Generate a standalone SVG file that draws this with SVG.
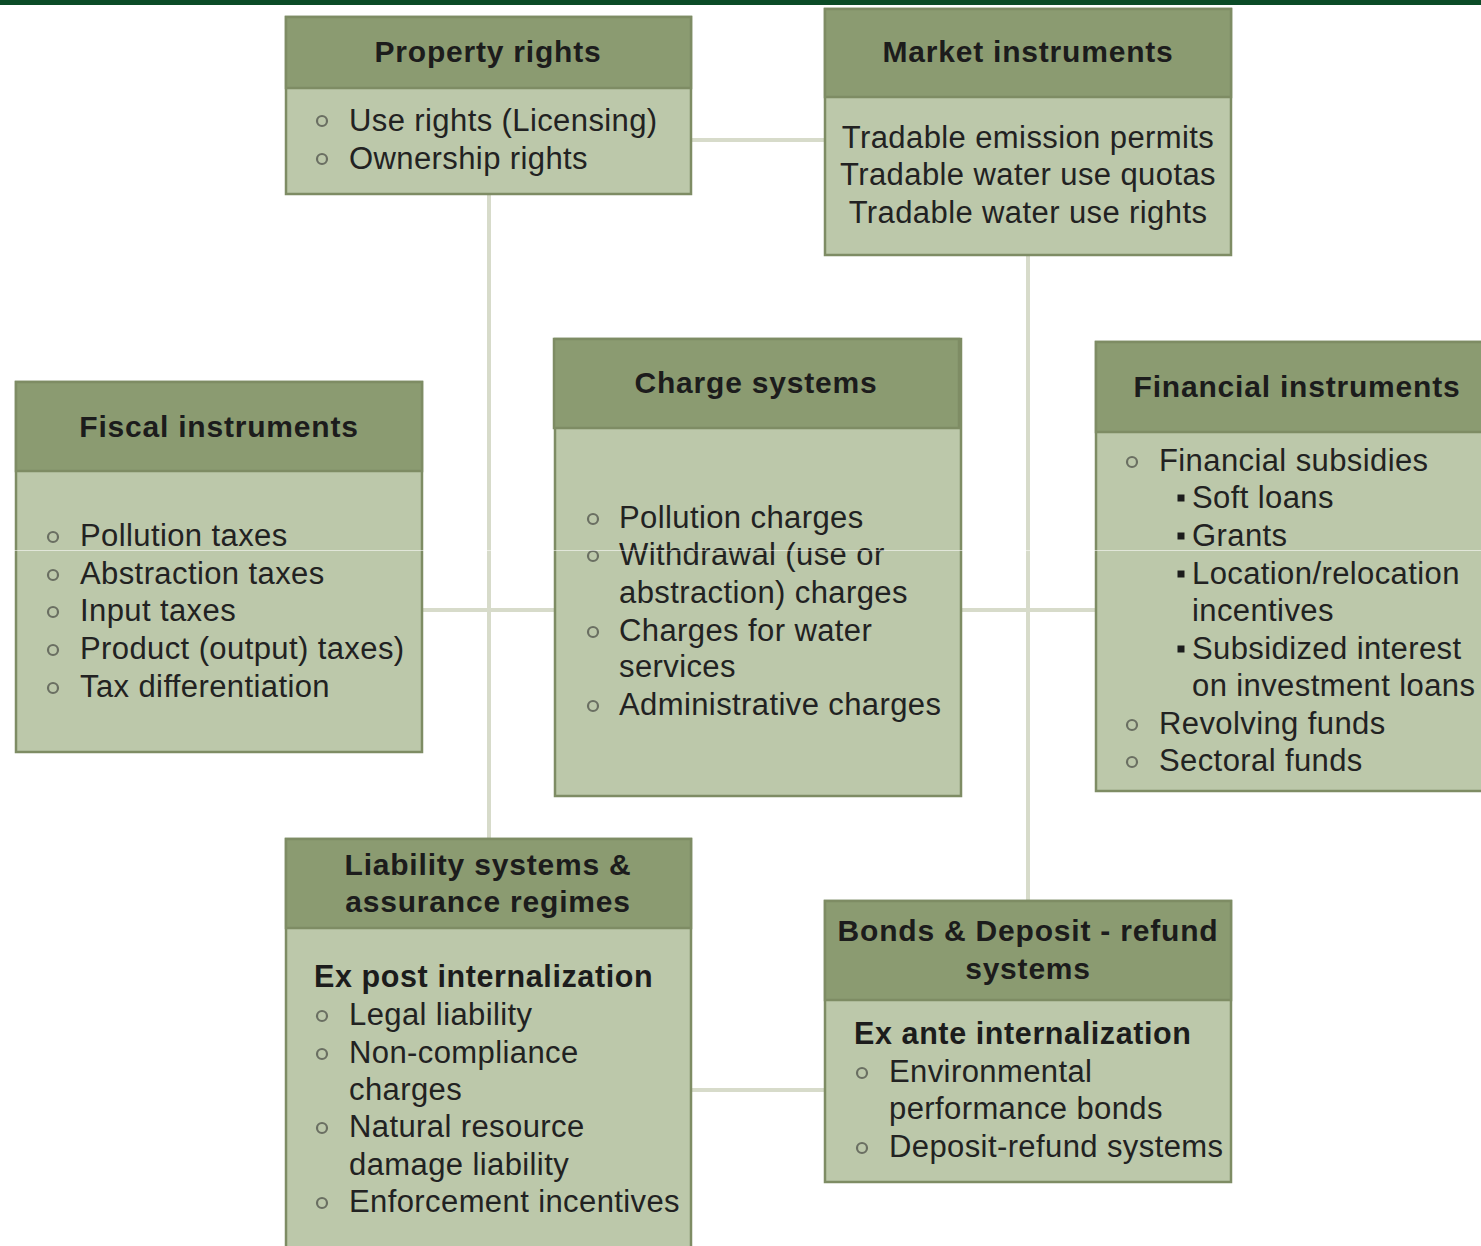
<svg xmlns="http://www.w3.org/2000/svg" width="1481" height="1246" viewBox="0 0 1481 1246">
  <style>
    .box { fill: #bcc8aa; stroke: #7e8c64; stroke-width: 2.5; }
    .head { fill: #8b9b71; stroke: #7e8c64; stroke-width: 2.5; }
    .conn { stroke: #d7dbca; stroke-width: 4; fill: none; }
    .title { font-family: "Liberation Sans", Arial, sans-serif; font-weight: bold; font-size: 30px; fill: #1c1c1c; text-anchor: middle; letter-spacing: 0.8px; }
    .txt { font-family: "Liberation Sans", Arial, sans-serif; font-size: 31px; fill: #222; letter-spacing: 0.4px; }
    .sub { font-family: "Liberation Sans", Arial, sans-serif; font-weight: bold; font-size: 30.5px; fill: #1c1c1c; letter-spacing: 0.6px; }
    .mid { text-anchor: middle; }
    .dot { fill: none; stroke: #6a6f62; stroke-width: 2.2; }
    .sq { fill: #1c1c1c; }
  </style>
  <defs>
    <circle id="ring" r="5" class="dot"/>
    <rect id="square" x="-3.5" y="-3.5" width="7" height="7" class="sq"/>
  </defs>

  <rect width="1481" height="1246" fill="#ffffff"/>
  <!-- page top rule -->
  <rect x="0" y="0" width="1481" height="5" fill="#0b4b27"/>

  <!-- connectors -->
  <g id="connectors">
    <line class="conn" x1="692" y1="140" x2="825" y2="140"/>
    <line class="conn" x1="489" y1="194" x2="489" y2="839"/>
    <line class="conn" x1="1028" y1="255" x2="1028" y2="901"/>
    <line class="conn" x1="422" y1="610" x2="554" y2="610"/>
    <line class="conn" x1="961" y1="610" x2="1096" y2="610"/>
    <line class="conn" x1="691" y1="1090" x2="825" y2="1090"/>
  </g>

  <!-- Property rights -->
  <g id="property-rights">
    <rect class="box" x="286" y="17" width="405" height="177"/>
    <rect class="head" x="286" y="17" width="405" height="71"/>
    <text class="title" x="488" y="62">Property rights</text>
    <use href="#ring" x="322" y="121"/>
    <text class="txt" x="349" y="131">Use rights (Licensing)</text>
    <use href="#ring" x="322" y="159"/>
    <text class="txt" x="349" y="169">Ownership rights</text>
  </g>

  <!-- Market instruments -->
  <g id="market-instruments">
    <rect class="box" x="825" y="9" width="406" height="246"/>
    <rect class="head" x="825" y="9" width="406" height="88"/>
    <text class="title" x="1028" y="62">Market instruments</text>
    <text class="txt mid" x="1028" y="148">Tradable emission permits</text>
    <text class="txt mid" x="1028" y="185">Tradable water use quotas</text>
    <text class="txt mid" x="1028" y="223">Tradable water use rights</text>
  </g>

  <!-- Fiscal instruments -->
  <g id="fiscal-instruments">
    <rect class="box" x="16" y="382" width="406" height="370"/>
    <rect class="head" x="16" y="382" width="406" height="89"/>
    <text class="title" x="219" y="437">Fiscal instruments</text>
    <use href="#ring" x="53" y="537"/>
    <text class="txt" x="80" y="546">Pollution taxes</text>
    <use href="#ring" x="53" y="575"/>
    <text class="txt" x="80" y="584">Abstraction taxes</text>
    <use href="#ring" x="53" y="612"/>
    <text class="txt" x="80" y="621">Input taxes</text>
    <use href="#ring" x="53" y="650"/>
    <text class="txt" x="80" y="659">Product (output) taxes)</text>
    <use href="#ring" x="53" y="688"/>
    <text class="txt" x="80" y="697">Tax differentiation</text>
  </g>

  <!-- Charge systems -->
  <g id="charge-systems">
    <rect class="box" x="555" y="339" width="406" height="457"/>
    <rect class="head" x="554" y="339" width="405" height="89"/>
    <text class="title" x="756" y="393">Charge systems</text>
    <use href="#ring" x="593" y="519"/>
    <text class="txt" x="619" y="528">Pollution charges</text>
    <use href="#ring" x="593" y="556"/>
    <text class="txt" x="619" y="565">Withdrawal (use or</text>
    <text class="txt" x="619" y="603">abstraction) charges</text>
    <use href="#ring" x="593" y="632"/>
    <text class="txt" x="619" y="641">Charges for water</text>
    <text class="txt" x="619" y="677">services</text>
    <use href="#ring" x="593" y="706"/>
    <text class="txt" x="619" y="715">Administrative charges</text>
  </g>

  <!-- Financial instruments -->
  <g id="financial-instruments">
    <rect class="box" x="1096" y="342" width="392" height="449"/>
    <rect class="head" x="1096" y="342" width="392" height="90"/>
    <text class="title" x="1297" y="397">Financial instruments</text>
    <use href="#ring" x="1132" y="462"/>
    <text class="txt" x="1159" y="471">Financial subsidies</text>
    <use href="#square" x="1181" y="498"/>
    <text class="txt" x="1192" y="508">Soft loans</text>
    <use href="#square" x="1181" y="536"/>
    <text class="txt" x="1192" y="546">Grants</text>
    <use href="#square" x="1181" y="574"/>
    <text class="txt" x="1192" y="584">Location/relocation</text>
    <text class="txt" x="1192" y="621">incentives</text>
    <use href="#square" x="1181" y="649"/>
    <text class="txt" x="1192" y="659">Subsidized interest</text>
    <text class="txt" x="1192" y="696">on investment loans</text>
    <use href="#ring" x="1132" y="725"/>
    <text class="txt" x="1159" y="734">Revolving funds</text>
    <use href="#ring" x="1132" y="762"/>
    <text class="txt" x="1159" y="771">Sectoral funds</text>
  </g>

  <!-- Liability systems & assurance regimes -->
  <g id="liability-systems">
    <rect class="box" x="286" y="839" width="405" height="420"/>
    <rect class="head" x="286" y="839" width="405" height="89"/>
    <text class="title" x="488" y="875">Liability systems &amp;</text>
    <text class="title" x="488" y="912">assurance regimes</text>
    <text class="sub" x="314" y="987">Ex post internalization</text>
    <use href="#ring" x="322" y="1016"/>
    <text class="txt" x="349" y="1025">Legal liability</text>
    <use href="#ring" x="322" y="1054"/>
    <text class="txt" x="349" y="1063">Non-compliance</text>
    <text class="txt" x="349" y="1100">charges</text>
    <use href="#ring" x="322" y="1128"/>
    <text class="txt" x="349" y="1137">Natural resource</text>
    <text class="txt" x="349" y="1175">damage liability</text>
    <use href="#ring" x="322" y="1203"/>
    <text class="txt" x="349" y="1212">Enforcement incentives</text>
  </g>

  <!-- Bonds & Deposit-refund systems -->
  <g id="bonds-deposit-refund">
    <rect class="box" x="825" y="901" width="406" height="281"/>
    <rect class="head" x="825" y="901" width="406" height="99"/>
    <text class="title" x="1028" y="941">Bonds &amp; Deposit - refund</text>
    <text class="title" x="1028" y="979">systems</text>
    <text class="sub" x="854" y="1044">Ex ante internalization</text>
    <use href="#ring" x="862" y="1073"/>
    <text class="txt" x="889" y="1082">Environmental</text>
    <text class="txt" x="889" y="1119">performance bonds</text>
    <use href="#ring" x="862" y="1148"/>
    <text class="txt" x="889" y="1157">Deposit-refund systems</text>
  </g>

  <!-- faint light seam running across the page -->
  <line x1="0" y1="550.5" x2="1481" y2="550.5" stroke="#ffffff" stroke-opacity="0.55" stroke-width="1"/>
</svg>
